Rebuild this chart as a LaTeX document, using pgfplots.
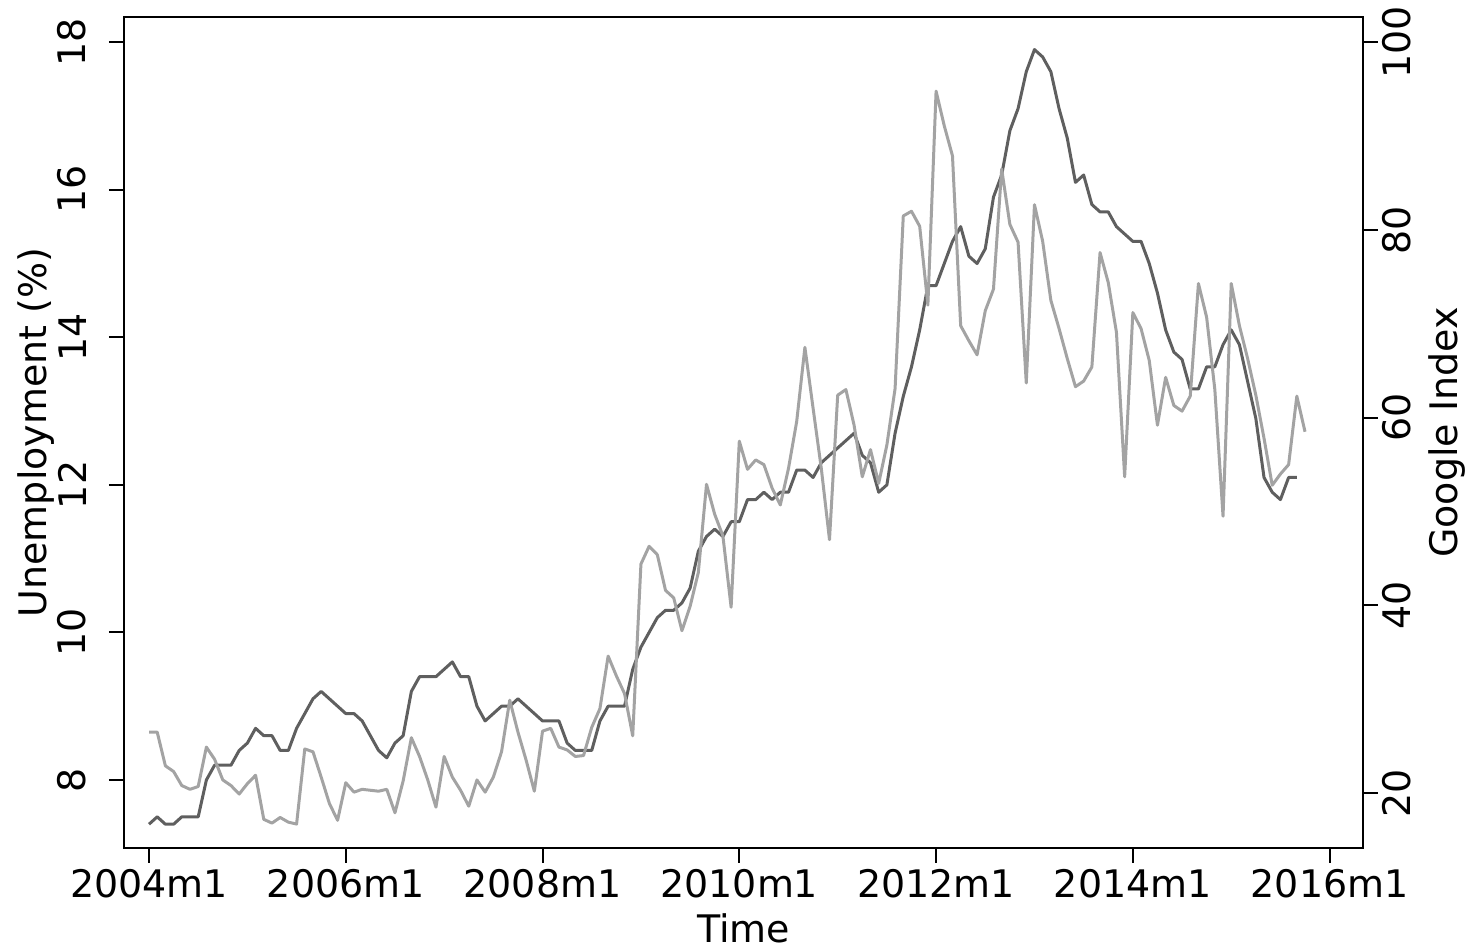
\documentclass[border=0pt]{standalone}
\usepackage{pgfplots}
\pgfplotsset{compat=1.18}
\usepackage{fontspec}
\setmainfont{DejaVu Sans}
\definecolor{udark}{RGB}{95,95,95}
\definecolor{glight}{RGB}{163,163,163}
\newcommand{\lblfont}{\fontsize{10.8}{13}\selectfont}
\begin{document}
\begin{tikzpicture}
\pgfplotsset{
  common/.style={
    at={(0,0)}, anchor=south west,
    scale only axis, width=123.9mm, height=83.1mm,
    xmin=-3.05, xmax=148.07,
    tick align=outside, major tick length=1.5mm,
    axis line style={line width=0.2mm},
    every tick/.style={black, line width=0.2mm},
    /pgf/number format/assume math mode=true,
    tick label style={font=\lblfont, inner sep=0pt},
    label style={font=\lblfont, inner sep=0pt},
    clip=true,
  }
}
\begin{axis}[common,
  ymin=7.078, ymax=18.342,
  xtick={0,24,48,72,96,120,144},
  xticklabels={2004m1,2006m1,2008m1,2010m1,2012m1,2014m1,2016m1},
  ytick={8,10,12,14,16,18},
  xtick pos=lower, ytick pos=left,
  yticklabel style={rotate=90, anchor=south, yshift=2.2mm},
  xticklabel style={anchor=north, yshift=-0.6mm},
  xlabel={Time},
  xlabel style={at={(axis description cs:0.5,-0.0782)}, anchor=north},
  ylabel={Unemployment (\%)},
  ylabel style={at={(axis description cs:-0.0864,0.5)}, anchor=north, rotate=0},
]
\addplot[udark, line width=0.3mm, line join=round] coordinates {
(0,7.4)(1,7.5)(2,7.4)(3,7.4)(4,7.5)(5,7.5)(6,7.5)(7,8.0)(8,8.2)(9,8.2)
(10,8.2)(11,8.4)(12,8.5)(13,8.7)(14,8.6)(15,8.6)(16,8.4)(17,8.4)(18,8.7)(19,8.9)
(20,9.1)(21,9.2)(22,9.1)(23,9.0)(24,8.9)(25,8.9)(26,8.8)(27,8.6)(28,8.4)(29,8.3)
(30,8.5)(31,8.6)(32,9.2)(33,9.4)(34,9.4)(35,9.4)(36,9.5)(37,9.6)(38,9.4)(39,9.4)
(40,9.0)(41,8.8)(42,8.9)(43,9.0)(44,9.0)(45,9.1)(46,9.0)(47,8.9)(48,8.8)(49,8.8)
(50,8.8)(51,8.5)(52,8.4)(53,8.4)(54,8.4)(55,8.8)(56,9.0)(57,9.0)(58,9.0)(59,9.5)
(60,9.8)(61,10.0)(62,10.2)(63,10.3)(64,10.3)(65,10.4)(66,10.6)(67,11.1)(68,11.3)(69,11.4)
(70,11.3)(71,11.5)(72,11.5)(73,11.8)(74,11.8)(75,11.9)(76,11.8)(77,11.9)(78,11.9)(79,12.2)
(80,12.2)(81,12.1)(82,12.3)(83,12.4)(84,12.5)(85,12.6)(86,12.7)(87,12.4)(88,12.3)(89,11.9)
(90,12.0)(91,12.7)(92,13.2)(93,13.6)(94,14.1)(95,14.7)(96,14.7)(97,15.0)(98,15.3)(99,15.5)
(100,15.1)(101,15.0)(102,15.2)(103,15.9)(104,16.2)(105,16.8)(106,17.1)(107,17.6)(108,17.9)(109,17.8)
(110,17.6)(111,17.1)(112,16.7)(113,16.1)(114,16.2)(115,15.8)(116,15.7)(117,15.7)(118,15.5)(119,15.4)
(120,15.3)(121,15.3)(122,15.0)(123,14.6)(124,14.1)(125,13.8)(126,13.7)(127,13.3)(128,13.3)(129,13.6)
(130,13.6)(131,13.9)(132,14.1)(133,13.9)(134,13.4)(135,12.9)(136,12.1)(137,11.9)(138,11.8)(139,12.1)
(140,12.1)
};
\end{axis}
\begin{axis}[common,
  ymin=14.15, ymax=102.7,
  axis x line=none, axis y line*=right,
  ytick={20,40,60,80,100},
  yticklabel style={rotate=90, anchor=north, yshift=-0.4mm},
  ylabel={Google Index},
  ylabel style={at={(axis description cs:1.0525,0.5)}, anchor=north, rotate=0},
]
\addplot[glight, line width=0.3mm, line join=round] coordinates {
(0,26.5)(1,26.5)(2,22.9)(3,22.3)(4,20.8)(5,20.4)(6,20.7)(7,24.9)(8,23.6)(9,21.4)
(10,20.8)(11,19.9)(12,21.0)(13,21.9)(14,17.2)(15,16.8)(16,17.4)(17,16.9)(18,16.7)(19,24.7)
(20,24.4)(21,21.7)(22,18.9)(23,17.1)(24,21.1)(25,20.1)(26,20.4)(27,20.3)(28,20.2)(29,20.4)
(30,17.9)(31,21.3)(32,25.9)(33,23.9)(34,21.4)(35,18.5)(36,23.9)(37,21.7)(38,20.3)(39,18.6)
(40,21.4)(41,20.1)(42,21.7)(43,24.4)(44,29.9)(45,26.5)(46,23.5)(47,20.2)(48,26.6)(49,26.9)
(50,24.9)(51,24.6)(52,23.9)(53,24.0)(54,27.0)(55,29.0)(56,34.6)(57,32.5)(58,30.6)(59,26.1)
(60,44.4)(61,46.3)(62,45.4)(63,41.6)(64,40.8)(65,37.3)(66,39.9)(67,43.5)(68,52.9)(69,49.7)
(70,47.4)(71,39.8)(72,57.5)(73,54.5)(74,55.5)(75,55.0)(76,52.5)(77,50.7)(78,54.6)(79,59.6)
(80,67.5)(81,61.0)(82,54.6)(83,47.0)(84,62.4)(85,63.0)(86,59.2)(87,53.7)(88,56.6)(89,53.0)
(90,57.1)(91,63.1)(92,81.5)(93,82.0)(94,80.4)(95,72.0)(96,94.8)(97,91.1)(98,87.9)(99,69.8)
(100,68.2)(101,66.7)(102,71.4)(103,73.7)(104,86.5)(105,80.6)(106,78.7)(107,63.7)(108,82.7)(109,78.8)
(110,72.5)(111,69.5)(112,66.3)(113,63.3)(114,63.9)(115,65.4)(116,77.6)(117,74.4)(118,69.1)(119,53.7)
(120,71.2)(121,69.5)(122,66.1)(123,59.2)(124,64.3)(125,61.3)(126,60.7)(127,62.3)(128,74.3)(129,70.7)
(130,63.0)(131,49.5)(132,74.3)(133,69.8)(134,66.3)(135,62.4)(136,57.8)(137,52.8)(138,54.0)(139,55.0)
(140,62.3)(141,58.5)
};
\end{axis}
\pgfresetboundingbox
\path[use as bounding box] (-12.4mm,-10mm) rectangle (134.7mm,84.8mm);
\end{tikzpicture}
\end{document}
